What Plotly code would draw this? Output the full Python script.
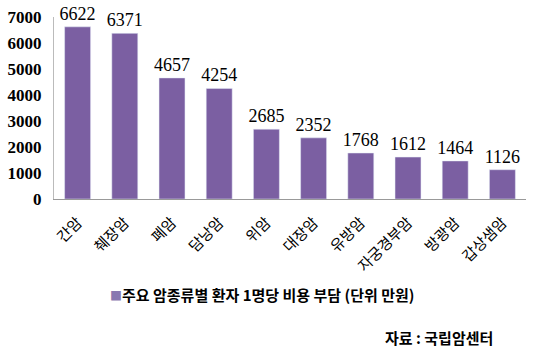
import plotly.graph_objects as go

categories = ["간암", "췌장암", "폐암", "담낭암", "위암", "대장암", "유방암", "자궁경부암", "방광암", "갑상샘암"]
values = [6622, 6371, 4657, 4254, 2685, 2352, 1768, 1612, 1464, 1126]
series_name = "주요 암종류별 환자 1명당 비용 부담 (단위 만원)"
y_ticks = [0, 1000, 2000, 3000, 4000, 5000, 6000, 7000]
source_text = "자료 : 국립암센터"

serif = "Liberation Serif, Noto Sans CJK KR, serif"
bar_color = "#7B5FA2"

fig = go.Figure(go.Bar(
    x=categories, y=values, name=series_name,
    marker=dict(color=bar_color),
    text=[str(v) for v in values], textposition="outside",
    constraintext="none",
    textfont=dict(family=serif, size=18, color="black"),
    cliponaxis=False, showlegend=False,
))

fig.update_layout(
    width=534, height=353,
    margin=dict(l=52, r=8, t=12, b=154),
    plot_bgcolor="white", paper_bgcolor="white",
    bargap=0.45,
    font=dict(family=serif, color="black"),
    xaxis=dict(showline=True, linecolor="#999999", linewidth=1, tickangle=-45,
               tickfont=dict(family="Noto Sans CJK KR", size=15, color="black"),
               ticks="outside", ticklen=8, tickcolor="rgba(0,0,0,0)", showgrid=False),
    yaxis=dict(range=[0, 7000], tickvals=y_ticks, showline=True, linecolor="#bbbbbb",
               showgrid=False, zeroline=False, ticks="",
               tickfont=dict(family=serif, size=17, color="black", weight="bold"),
               ticklabelstandoff=8),
    annotations=[
        dict(text="<span style='color:#8a78b0;font-size:12px'>■</span><b>" + series_name + "</b>",
             xref="paper", yref="paper", x=0.115, y=-0.525, xanchor="left", yanchor="middle",
             showarrow=False, font=dict(family="Noto Sans CJK KR", size=15, color="black")),
        dict(text="<b>" + source_text + "</b>", xref="paper", yref="paper",
             x=0.935, y=-0.76, xanchor="right", yanchor="middle", showarrow=False,
             font=dict(family="Noto Sans CJK KR", size=15, color="black")),
    ],
)

fig.write_html("out.html")
